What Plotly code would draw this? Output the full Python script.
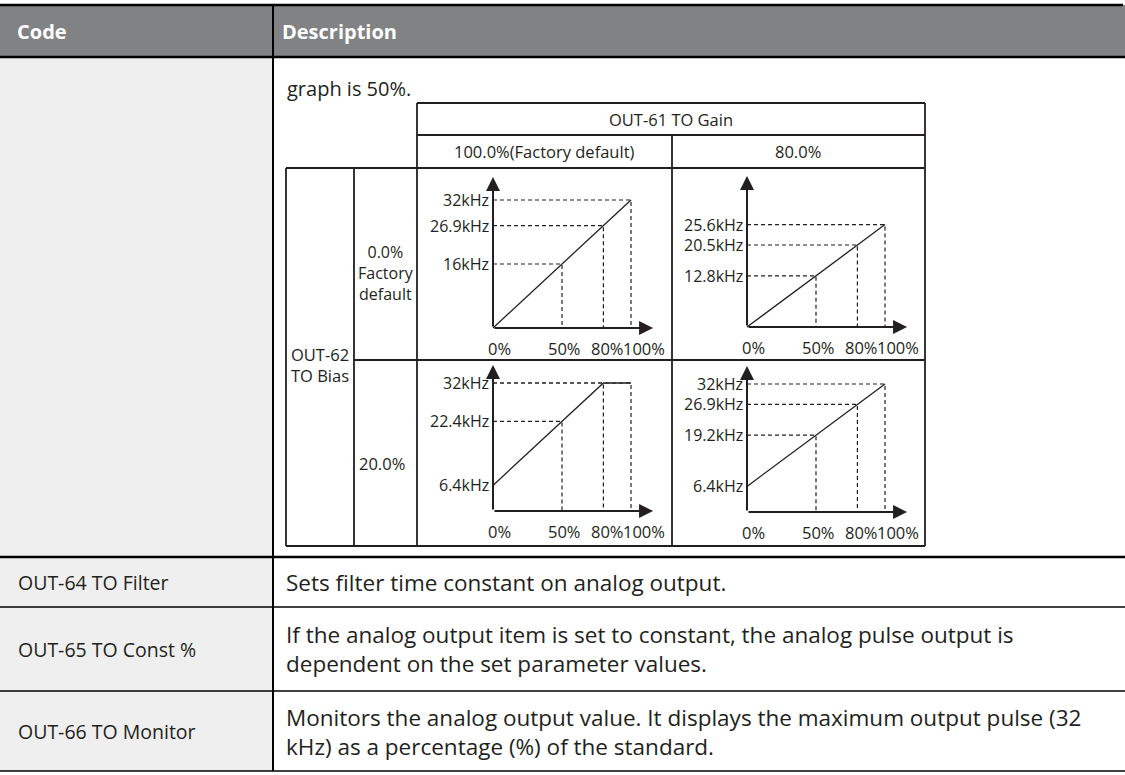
import plotly.graph_objects as go

# ---------------- data ----------------
X_PCT = [0, 50, 80, 100]
X_LABELS = ["0%", "50%", "80%", "100%"]

P1_Y = [0, 16, 25.6, 32]          # gain 100 %, bias 0 %
P1_YLABELS = ["", "16kHz", "26.9kHz", "32kHz"]
P2_Y = [0, 12.8, 20.5, 25.6]      # gain 80 %, bias 0 %
P2_YLABELS = ["", "12.8kHz", "20.5kHz", "25.6kHz"]
P3_Y = [6.4, 22.4, 32, 32]        # gain 100 %, bias 20 %
P3_YLABELS = ["6.4kHz", "22.4kHz", "32kHz", ""]
P4_Y = [6.4, 19.2, 26.9, 32]      # gain 80 %, bias 20 %
P4_YLABELS = ["6.4kHz", "19.2kHz", "26.9kHz", "32kHz"]

HEADERS = ["Code", "Description"]
GAIN_TITLE = "OUT-61 TO Gain"
GAIN_COLS = ["100.0%(Factory default)", "80.0%"]
BIAS_TITLE = ["OUT-62", "TO Bias"]
BIAS_ROW1 = ["0.0%", "Factory", "default"]
BIAS_ROW2 = "20.0%"
INTRO = "graph is 50%."
CODES = ["OUT-64 TO Filter", "OUT-65 TO Const %", "OUT-66 TO Monitor"]
DESCS = [
    ["Sets filter time constant on analog output."],
    ["If the analog output item is set to constant, the analog pulse output is",
     "dependent on the set parameter values."],
    ["Monitors the analog output value. It displays the maximum output pulse (32",
     "kHz) as a percentage (%) of the standard."],
]

# ---------------- style / layout ----------------
W, H = 1125, 775
FONT = "Open Sans"
INK = "#231f20"
SMALL = 16.5
KX, KY = 1.38, 4.0                      # px per % and px per kHz
ORIGINS = [(493, 328), (747, 327), (493, 511), (747, 512)]
Y_TIPS = [37.75, 37.75, 36.5, 36.5]
X_TIP = 116
XLAB_SHIFT = [6, 2, 4, 13]
COL_X = 273                              # code / description divider
DESC_X = 285
ROW_MID = [582, 649, 731.5]

panels = [(P1_Y, P1_YLABELS), (P2_Y, P2_YLABELS), (P3_Y, P3_YLABELS), (P4_Y, P4_YLABELS)]

fig = go.Figure()
layout_axes = {}
annotations = []
shapes = []

for i, ((ys, ylabs), (ox, oy), ytip) in enumerate(zip(panels, ORIGINS, Y_TIPS)):
    n = i + 1
    xa = "x" if n == 1 else f"x{n}"
    ya = "y" if n == 1 else f"y{n}"
    xl, xr = ox - 10, ox + 175
    yb, yt = oy + 10, oy - 160
    layout_axes["xaxis" if n == 1 else f"xaxis{n}"] = dict(
        domain=[xl / W, xr / W], range=[(xl - ox) / KX, (xr - ox) / KX],
        visible=False, anchor=ya, fixedrange=True)
    layout_axes["yaxis" if n == 1 else f"yaxis{n}"] = dict(
        domain=[1 - yb / H, 1 - yt / H], range=[(oy - yb) / KY, (oy - yt) / KY],
        visible=False, anchor=xa, fixedrange=True)

    # dashed guide lines
    for xv, yv in zip(X_PCT[1:], ys[1:]):
        fig.add_trace(go.Scatter(x=[0, xv, xv], y=[yv, yv, 0], mode="lines",
                                 line=dict(color=INK, width=1.2, dash="4px,3px"),
                                 xaxis=xa, yaxis=ya, hoverinfo="skip", showlegend=False))
    # characteristic line
    fig.add_trace(go.Scatter(x=X_PCT, y=ys, mode="lines",
                             line=dict(color=INK, width=1.3),
                             xaxis=xa, yaxis=ya, hoverinfo="skip", showlegend=False))
    # axes with arrows
    annotations.append(dict(x=0, y=ytip, ax=0, ay=0, xref=xa, yref=ya, axref=xa, ayref=ya,
                            text="", showarrow=True, arrowhead=2, arrowsize=1.4,
                            arrowwidth=2, arrowcolor=INK))
    annotations.append(dict(x=X_TIP, y=0, ax=0, ay=0, xref=xa, yref=ya, axref=xa, ayref=ya,
                            text="", showarrow=True, arrowhead=2, arrowsize=1.4,
                            arrowwidth=2, arrowcolor=INK))
    # y labels
    for yv, lab in zip(ys, ylabs):
        if lab:
            annotations.append(dict(x=0, y=yv, xref=xa, yref=ya, text=lab, showarrow=False,
                                    xanchor="right", yanchor="middle", xshift=-3, borderpad=0,
                                    font=dict(family=FONT, size=16, color=INK)))
    # x labels
    for xv, lab, sh in zip(X_PCT, X_LABELS, XLAB_SHIFT):
        annotations.append(dict(x=xv, y=0, xref=xa, yref=ya, text=lab, showarrow=False,
                                xanchor="center", yanchor="middle", xshift=sh, yshift=-20,
                                borderpad=0, font=dict(family=FONT, size=SMALL, color=INK)))

# page overlay axis (pixel coordinates)
layout_axes["xaxis5"] = dict(domain=[0, 1], range=[0, W], visible=False, anchor="y5", fixedrange=True)
layout_axes["yaxis5"] = dict(domain=[0, 1], range=[H, 0], visible=False, anchor="x5", fixedrange=True)
fig.add_trace(go.Scatter(x=[0], y=[0], mode="markers", marker=dict(opacity=0),
                         xaxis="x5", yaxis="y5", hoverinfo="skip", showlegend=False))


def rect(x0, y0, x1, y1, fill):
    shapes.append(dict(type="rect", xref="x5", yref="y5", x0=x0, y0=y0, x1=x1, y1=y1,
                       fillcolor=fill, line=dict(width=0), layer="below"))


def line(x0, y0, x1, y1, w=1.5, c="#000000"):
    shapes.append(dict(type="line", xref="x5", yref="y5", x0=x0, y0=y0, x1=x1, y1=y1,
                       line=dict(color=c, width=w), layer="above"))


def text(x, y, s, size=20, anchor="left", color=INK, bold=False, align="left"):
    annotations.append(dict(x=x, y=y, xref="x5", yref="y5", text=(f"<b>{s}</b>" if bold else s),
                            showarrow=False, xanchor=anchor, yanchor="middle", align=align,
                            borderpad=0, font=dict(family=FONT, size=size, color=color)))


# outer table
rect(0, 5, W, 57, "#818284")
rect(0, 57, COL_X, 771, "#efefef")
line(0, 5, 1123, 5, 2.5)
line(0, 57, W, 57, 2.5)
line(COL_X, 5, COL_X, 771, 2)
line(0, 557, W, 557, 2.5)
line(0, 607, W, 607, 1.6)
line(0, 691, W, 691, 1.6)
line(0, 771, W, 771, 1.6)

# inner table
for args in [(417, 103, 925, 103), (417, 135, 925, 135), (286, 168, 925, 168),
             (354, 360, 925, 360), (286, 546, 925, 546),
             (286, 168, 286, 546), (354, 168, 354, 546), (417, 103, 417, 546),
             (672, 135, 672, 546), (925, 103, 925, 546)]:
    line(*args, w=1.8, c=INK)

# texts
text(16, 31, HEADERS[0], size=20, color="white", bold=True)
text(281, 31, HEADERS[1], size=20, color="white", bold=True)
text(DESC_X + 1, 88, INTRO, size=20)
text(671, 119, GAIN_TITLE, size=SMALL, anchor="center")
text(544, 151, GAIN_COLS[0], size=SMALL, anchor="center")
text(798, 151, GAIN_COLS[1], size=SMALL, anchor="center")
text(386, 273, "<br>".join(BIAS_ROW1), size=16, anchor="center", align="center")
text(290, 365, "<br>".join(BIAS_TITLE), size=SMALL)
text(358, 463, BIAS_ROW2, size=SMALL)

for yy, s in zip(ROW_MID, CODES):
    text(17, yy, s, size=19.5)
for yy, lines_ in zip(ROW_MID, DESCS):
    text(DESC_X, yy, "<br>".join(lines_), size=22.5)

fig.update_layout(width=W, height=H, margin=dict(l=0, r=0, t=0, b=0),
                  paper_bgcolor="white", plot_bgcolor="rgba(0,0,0,0)",
                  showlegend=False, shapes=shapes, annotations=annotations, **layout_axes)
fig.write_html("out.html", config={"displayModeBar": False},
               post_script="document.body.style.margin='0';")
